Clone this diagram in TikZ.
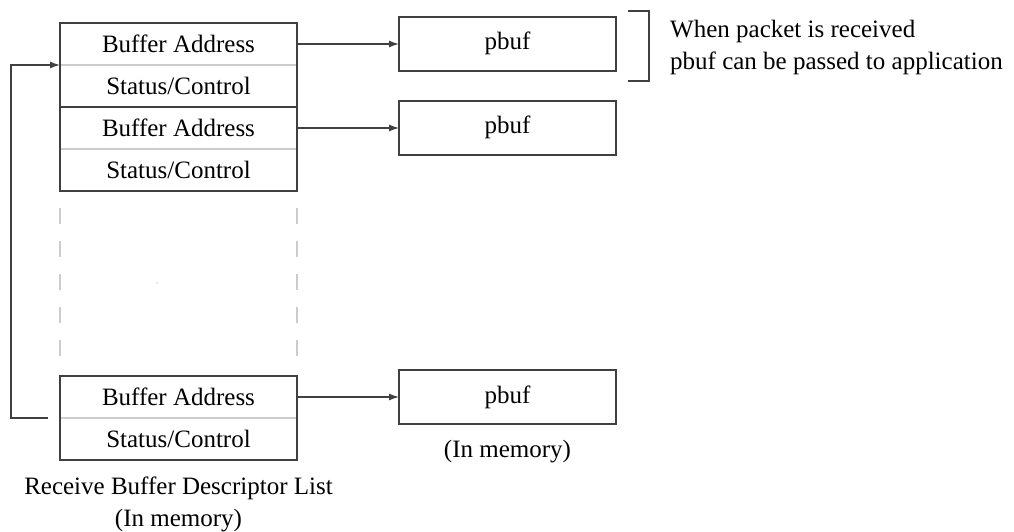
\documentclass[tikz,border=0pt]{standalone}
\usepackage{fontspec}
\setmainfont{Liberation Serif}
\usetikzlibrary{arrows.meta,positioning}
\definecolor{BoxLine}{RGB}{64,64,64}
\definecolor{RowLine}{RGB}{204,204,204}

\begin{document}
\begin{tikzpicture}[
  x=1pt,y=-1pt,
  node distance=0pt,
  font=\fontsize{25}{32}\selectfont,
  row/.style={
    minimum width=237pt,minimum height=42pt,
    inner sep=0pt,outer sep=0pt
  },
  buf/.style={
    draw=BoxLine,line width=1.5pt,
    minimum width=217pt,minimum height=54pt,
    text height=18pt,text depth=6pt,
    inner sep=0pt,outer sep=0pt
  },
  frame/.style={draw=BoxLine,line width=1.6pt},
  sep/.style={draw=RowLine,line width=1.5pt},
  gapline/.style={draw=RowLine,line width=1.5pt,dash pattern=on 16pt off 17pt},
  arr/.style={-{Latex[length=10pt,width=7pt]},line width=1.3pt,BoxLine}
]
  \useasboundingbox (0,0) rectangle (1014,532);
  % descriptor list
  \node[row] (ba1) at (178.5,44) {Buffer Address};
  \node[row,below=of ba1] (sc1) {Status/Control};
  \node[row,below=of sc1] (ba2) {Buffer Address};
  \node[row,below=of ba2] (sc2) {Status/Control};
  \node[row] (ba3) at (178.5,397) {Buffer Address};
  \node[row,below=of ba3] (sc3) {Status/Control};
  \draw[sep] (ba1.south west) -- (ba1.south east);
  \draw[sep] (ba2.south west) -- (ba2.south east);
  \draw[sep] (ba3.south west) -- (ba3.south east);
  \draw[frame] (ba1.north west) rectangle (sc2.south east);
  \draw[frame] (sc1.south west) -- (sc1.south east);
  \draw[frame] (ba3.north west) rectangle (sc3.south east);
  \draw[gapline] ([yshift=-17pt]sc2.south west) -- ([yshift=19pt]ba3.north west);
  \draw[gapline] ([yshift=-17pt]sc2.south east) -- ([yshift=19pt]ba3.north east);
  \fill[RowLine] (157,283) circle (0.8);
  \node[below=17pt of sc3,align=center,inner sep=0pt] (lst)
    {Receive Buffer Descriptor List\\(In memory)};

  % buffers
  \node[buf,right=102pt of ba1] (pb1) {pbuf};
  \node[buf,right=102pt of ba2] (pb2) {pbuf};
  \node[buf,right=102pt of ba3] (pb3) {pbuf};
  \node[below=16pt of pb3,inner sep=0pt] (mem) {(In memory)};
  \draw[arr] (ba1) -- (pb1);
  \draw[arr] (ba2) -- (pb2);
  \draw[arr] (ba3) -- (pb3);

  % wrap around to the first descriptor
  \coordinate (turn) at ([xshift=-49pt]sc3.north west);
  \draw[arr] ([xshift=-12pt]sc3.north west) -- (turn) |- (sc1.north west);

  % note on the first buffer
  \draw[frame] ([xshift=12pt,yshift=6pt]pb1.north east) -- ++(21,0)
    -- ++(0,70) -- ++(-21,0);
  \node[anchor=west,align=left,inner sep=0pt] (note) at ([xshift=54pt,yshift=-3pt]pb1.east)
    {When packet is received\\pbuf can be passed to application};
\end{tikzpicture}
\end{document}
